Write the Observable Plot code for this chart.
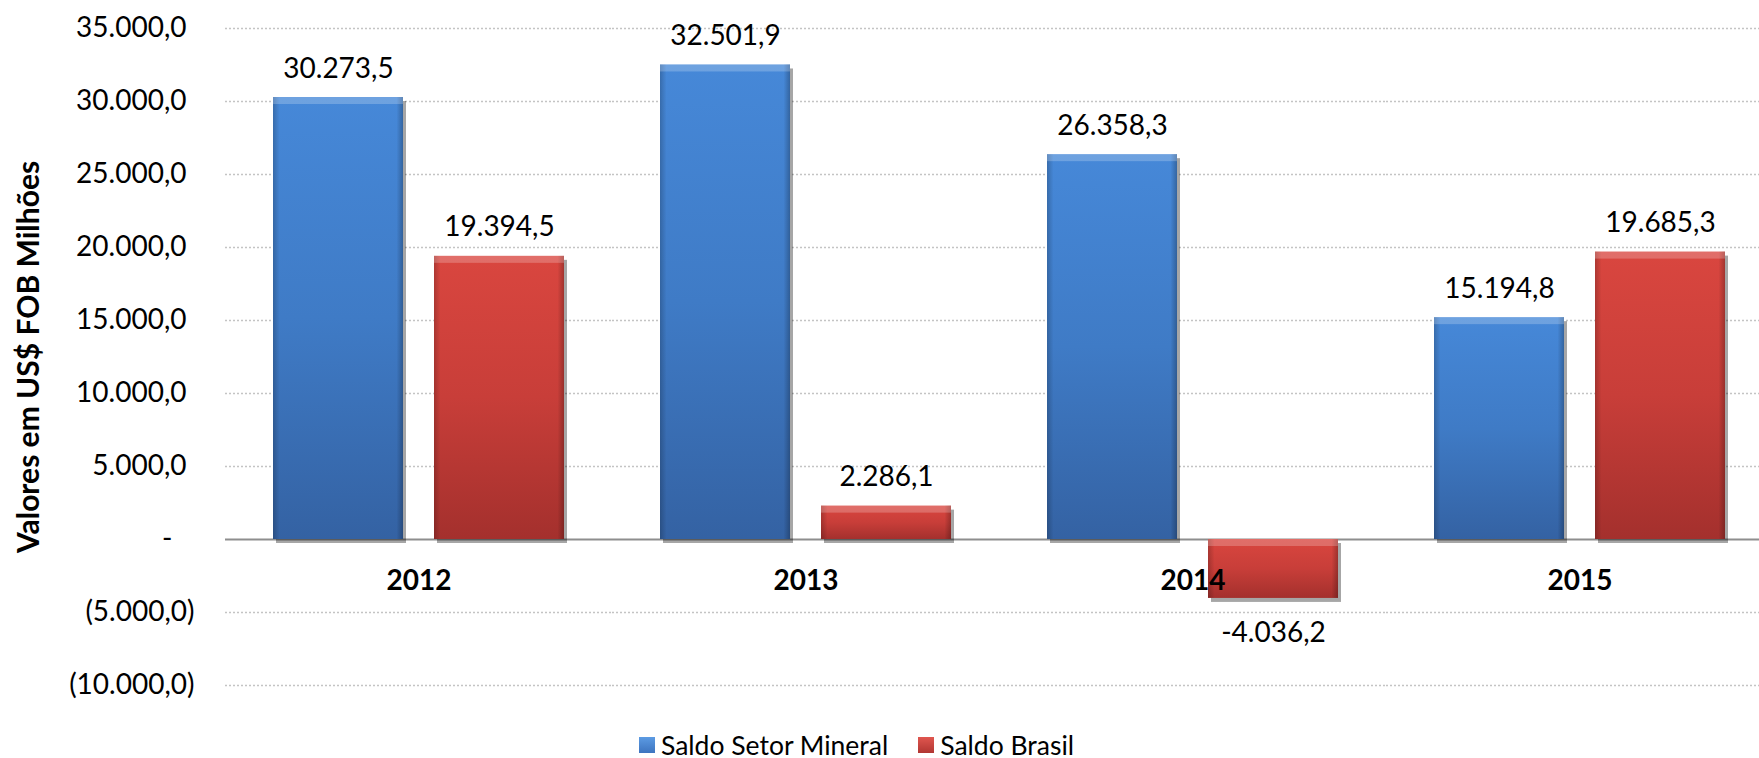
<!DOCTYPE html>
<html><head><meta charset="utf-8">
<script src="https://cdn.jsdelivr.net/npm/d3@7"></script>
<script src="https://cdn.jsdelivr.net/npm/@observablehq/plot@0.6"></script>
<style>
html,body{margin:0;padding:0;background:#fff;}
body{width:1759px;height:758px;position:relative;overflow:hidden;font-family:Lato,sans-serif;}
#legend{position:absolute;left:639px;top:732px;height:26px;display:flex;align-items:center;font-size:26.5px;line-height:1;color:#000;white-space:nowrap;}
.item{display:flex;align-items:center;}
.sw{width:16px;height:16px;margin-right:6px;box-sizing:border-box;}
</style></head>
<body><div id="chart"></div><div id="legend"></div>
<script>
const years = ["2012", "2013", "2014", "2015"];
const seriesNames = ["Saldo Setor Mineral", "Saldo Brasil"];
const saldoSetorMineral = [30273.5, 32501.9, 26358.3, 15194.8];
const saldoBrasil = [19394.5, 2286.1, -4036.2, 19685.3];
const yTicks = [-10000, -5000, 0, 5000, 10000, 15000, 20000, 25000, 30000, 35000];
const yTitle = "Valores em US$ FOB Milhões";
const seriesFills = ["url(#gBlue)", "url(#gRed)"];
const legendSwatch = ["linear-gradient(#5c9be3,#3d74bf)", "linear-gradient(#e0564f,#b13632)"];

const rows = years.flatMap((year, i) => [
  {year, series: seriesNames[0], value: saldoSetorMineral[i]},
  {year, series: seriesNames[1], value: saldoBrasil[i]}
]);

const loc = d3.formatLocale({decimal: ",", thousands: ".", grouping: [3], currency: ["", ""], minus: "-"});
const f1 = loc.format(",.1f");
const tickFmt = d => d > 0 ? f1(d) : d < 0 ? "(" + f1(-d) + ")" : "-";

const svg = Plot.plot({
  width: 1759,
  height: 720,
  marginTop: 28,
  marginBottom: 35,
  marginLeft: 224,
  marginRight: 0,
  style: {fontFamily: "Lato, sans-serif", fontSize: "28px", background: "white", color: "#000"},
  fx: {domain: years, range: [224, 1773], padding: 0, axis: null},
  x: {domain: seriesNames, paddingInner: 0.1925, paddingOuter: 0.298, axis: null},
  y: {domain: [-10000, 35000], axis: null},
  color: {domain: seriesNames, range: seriesFills},
  marks: [
    Plot.ruleY(yTicks.filter(t => t !== 0), {stroke: "#c4c4c4", strokeWidth: 1.5, strokeDasharray: "2,2"}),
    Plot.ruleY([0], {stroke: "#8e8e8e", strokeWidth: 2}),
    Plot.barY(rows, {fx: "year", x: "series", y: "value", fill: "black", fillOpacity: 0.35, dx: 3, dy: 4}),
    Plot.barY(rows, {fx: "year", x: "series", y: "value", fill: "series"}),
    Plot.barY(rows, {fx: "year", x: "series", y: "value", fill: "url(#gSide)"}),
    Plot.barY(rows, {fx: "year", x: "series", y1: d => Math.max(0, d.value), y2: d => Math.max(0, d.value), insetBottom: -7, fill: "white", fillOpacity: 0.22}),
    Plot.text(rows.filter(d => d.value >= 0), {fx: "year", x: "series", y: "value", text: d => f1(d.value), lineAnchor: "bottom", dy: -20, fontSize: 28}),
    Plot.text(rows.filter(d => d.value < 0), {fx: "year", x: "series", y: "value", text: d => f1(d.value), lineAnchor: "top", dy: 24, fontSize: 28}),
    Plot.text(years, {fx: d => d, y: 0, text: d => d, lineAnchor: "middle", dy: 42, fontWeight: "bold", fontSize: 28}),
    Plot.axisY({ticks: yTicks.filter(t => t > 0), tickSize: 0, tickPadding: 39, tickFormat: tickFmt, fontSize: 28, label: null}),
    Plot.axisY({ticks: yTicks.filter(t => t < 0), tickSize: 0, tickPadding: 31, tickFormat: tickFmt, fontSize: 28, label: null}),
    Plot.axisY({ticks: [0], tickSize: 0, tickPadding: 53, tickFormat: tickFmt, fontSize: 28, label: null}),
    Plot.axisY({ticks: [], label: yTitle, labelAnchor: "center", labelArrow: "none", labelOffset: 208, fontWeight: "bold", fontSize: 30})
  ]
});

const defs = d3.select(svg).insert("defs", ":first-child");
function grad(id, vertical, stops) {
  const g = defs.append("linearGradient").attr("id", id)
    .attr("x1", 0).attr("y1", 0).attr("x2", vertical ? 0 : 1).attr("y2", vertical ? 1 : 0);
  stops.forEach(([o, c, op]) => g.append("stop").attr("offset", o).attr("stop-color", c).attr("stop-opacity", op ?? 1));
}
grad("gBlue", true, [[0, "#4688d8"], [0.5, "#3f7bc6"], [1, "#3462a3"]]);
grad("gRed", true, [[0, "#d9463f"], [0.5, "#c83e39"], [1, "#a4302d"]]);
grad("gSide", false, [[0, "#000", 0.2], [0.05, "#000", 0], [0.95, "#000", 0], [1, "#000", 0.25]]);
defs.append("filter").attr("id", "blur").attr("x", "-20%").attr("y", "-20%").attr("width", "140%").attr("height", "140%")
  .append("feGaussianBlur").attr("stdDeviation", 2.5);
d3.select(svg).selectAll('g[aria-label="bar"]').filter(function () { return this.getAttribute("fill") === "black"; })
  .attr("filter", "url(#blur)");

document.getElementById("chart").appendChild(svg);

const legend = d3.select("#legend");
seriesNames.forEach((name, i) => {
  const it = legend.append("div").attr("class", "item").style("margin-right", i === 0 ? "30px" : "0px");
  it.append("div").attr("class", "sw").style("background", legendSwatch[i]);
  it.append("span").text(name);
});
</script></body></html>
